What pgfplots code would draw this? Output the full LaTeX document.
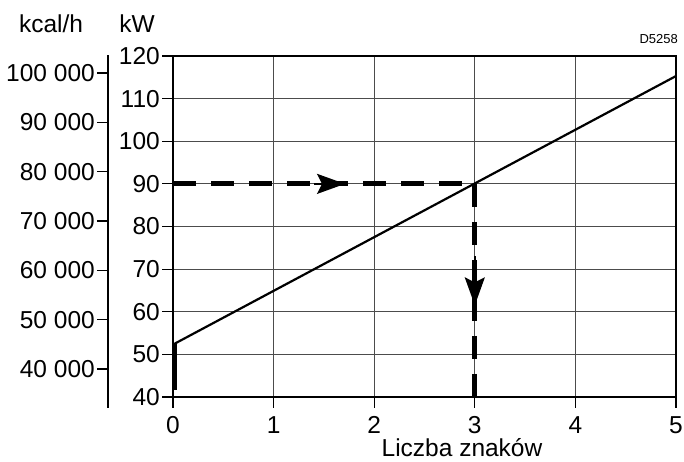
\documentclass[border=0pt]{standalone}
\usepackage{fontspec}
\setmainfont{Liberation Sans}
\usepackage{pgfplots}
\pgfplotsset{compat=1.18}
\usetikzlibrary{arrows.meta}

\newcommand{\lblfont}{\fontsize{24.5}{28}\selectfont}

\begin{document}
\begin{tikzpicture}[x=1pt,y=1pt]
\useasboundingbox (0,0) rectangle (684,462);

% secondary scale, kcal/h
\begin{axis}[
  at={(108pt,54pt)}, anchor=south west,
  scale only axis, width=1pt, height=353pt,
  xmin=0, xmax=1, ymin=32105, ymax=103644,
  axis x line=none, axis y line=left,
  axis line style={-, line width=1.2pt},
  xtick=\empty, scaled y ticks=false,
  ytick={40000,50000,60000,70000,80000,90000,100000},
  yticklabels={40~000,50~000,60~000,70~000,80~000,90~000,100~000},
  tick align=outside, major tick length=11pt,
  tick style={black, line width=1.2pt},
  tick label style={font=\lblfont},
  yticklabel style={inner xsep=2pt},
]
\end{axis}

% main chart, kW
\begin{axis}[
  at={(173pt,65pt)}, anchor=south west,
  scale only axis, width=503pt, height=341pt,
  xmin=0, xmax=5, ymin=40, ymax=120,
  xtick={0,1,2,3,4,5},
  ytick={40,50,60,70,80,90,100,110,120},
  grid=major,
  major grid style={line width=0.9pt, color=black!70},
  axis line style={line width=1.3pt},
  tick pos=left, tick align=outside, major tick length=11pt,
  tick style={black, line width=1.2pt},
  tick label style={font=\lblfont},
  yticklabel style={inner xsep=2pt},
  xticklabel style={yshift=-5pt},
  /pgf/number format/assume math mode=true,
  clip=false,
]
% heating output
\addplot[black, line width=2.2pt] coordinates {(0,52.3) (5,115.3)};
\addplot[black, line width=3.8pt] coordinates {(0.02,41.6) (0.02,52.4)};
% reading path
\addplot[black, line width=5pt, dash pattern=on 23pt off 15pt]
  coordinates {(0,90) (3,90)};
\addplot[black, line width=5pt, dash pattern=on 23pt off 15pt]
  coordinates {(3,90) (3,40)};
\addplot[black, line width=2pt, -{Stealth[length=28pt,width=20pt,inset=5pt]}]
  coordinates {(1.40,90) (1.71,90)};
\addplot[black, line width=2pt, -{Stealth[length=28pt,width=20pt,inset=5pt]}]
  coordinates {(3,73) (3,61.5)};
\end{axis}

\node[font=\lblfont] at (51,438) {kcal/h};
\node[font=\lblfont] at (137,438) {kW};
\node[font=\fontsize{13}{15}\selectfont, anchor=east, inner sep=0pt] at (678,423) {D5258};
\node[font=\lblfont, anchor=base, inner sep=0pt] at (462,5) {Liczba znaków};
\end{tikzpicture}
\end{document}
